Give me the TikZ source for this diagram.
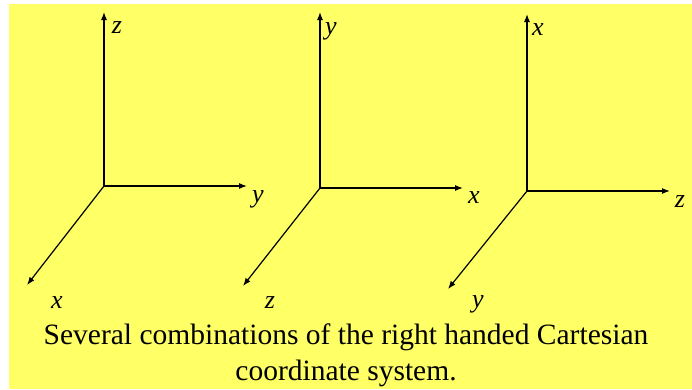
\documentclass[tikz,border=0pt]{standalone}
\usepackage{fontspec}
\setmainfont{Liberation Serif}
\usepackage{tikz}
\usetikzlibrary{arrows.meta}
\definecolor{slide}{HTML}{FFFF66}
\definecolor{ink}{HTML}{000000}
\tikzset{
  axis/.style={-{Latex[length=8pt,width=6pt]},line width=1.2pt,draw=ink},
  lbl/.style={inner sep=0pt,anchor=base,font=\fontsize{26}{26}\selectfont\itshape},
  caption/.style={align=center,font=\fontsize{29.5}{36}\selectfont}
}
\begin{document}
\begin{tikzpicture}[x=1pt,y=-1pt]
\useasboundingbox (0,0) rectangle (692,389);
\fill[white] (0,0) rectangle (692,389);
\fill[slide] (9,4) rectangle (692,389);
% first system: z up, y right, x out
\coordinate (o1) at (104,186);
\coordinate (z1) at (104,12);
\coordinate (y1) at (247,186);
\coordinate (x1) at (27,285);
\draw[axis] (o1) -- (z1);
\draw[axis] (o1) -- (y1);
\draw[axis] (o1) -- (x1);
\node[lbl] (lz1) at (117,33) {z};
\node[lbl] (ly1) at (258,202) {y};
\node[lbl] (lx1) at (57,308) {x};
% second system: y up, x right, z out
\coordinate (o2) at (320,188);
\coordinate (y2) at (320,12);
\coordinate (x2) at (463,188);
\coordinate (z2) at (243,286);
\draw[axis] (o2) -- (y2);
\draw[axis] (o2) -- (x2);
\draw[axis] (o2) -- (z2);
\node[lbl] (ly2) at (331,34) {y};
\node[lbl] (lx2) at (474,203) {x};
\node[lbl] (lz2) at (270,308) {z};
% third system: x up, z right, y out
\coordinate (o3) at (527,191);
\coordinate (x3) at (527,14);
\coordinate (z3) at (670,191);
\coordinate (y3) at (448,289);
\draw[axis] (o3) -- (x3);
\draw[axis] (o3) -- (z3);
\draw[axis] (o3) -- (y3);
\node[lbl] (lx3) at (538,35) {x};
\node[lbl] (lz3) at (680,207) {z};
\node[lbl] (ly3) at (478,307) {y};
\node[caption] (cap) at (346,355) {Several combinations of the right handed Cartesian\\coordinate system.};
\end{tikzpicture}
\end{document}
